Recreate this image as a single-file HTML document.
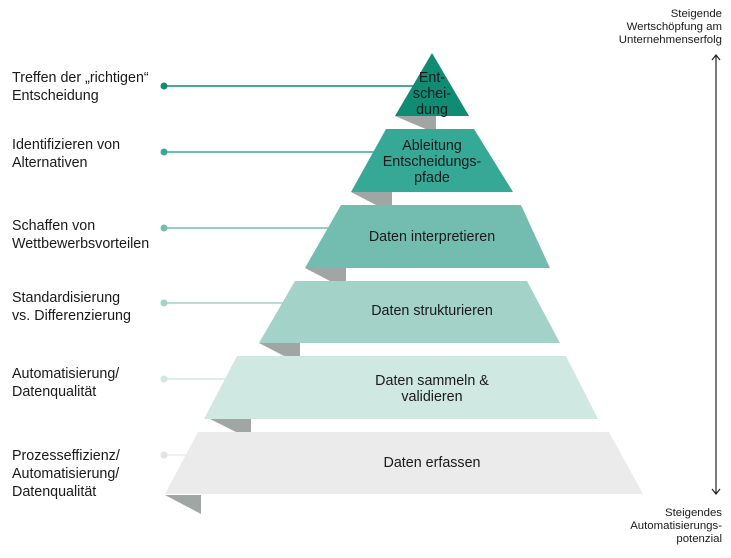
<!DOCTYPE html>
<html><head><meta charset="utf-8"><style>
body{margin:0;background:#fff;}
svg text{font-family:"Liberation Sans",sans-serif;font-size:14.3px;fill:#1a1a1a;}
.s{font-size:11.4px;}
</style></head><body>
<svg width="731" height="553" viewBox="0 0 731 553" xmlns="http://www.w3.org/2000/svg">
<g fill="#a0a6a3">
<polygon points="395,116 436,116 436,130 428,130"/>
<polygon points="351,192 392,192 392,205 376,205"/>
<polygon points="305,268 346,268 346,281 330,281"/>
<polygon points="259,343 300,343 300,356 284,356"/>
<polygon points="210,419 251,419 251,432 236,432"/>
<polygon points="165,495 201,495 201,514"/>
</g>
<g stroke-width="1.5">
<line x1="164" y1="86" x2="415" y2="86" stroke="#0f8c73"/>
<line x1="164" y1="152" x2="380" y2="152" stroke="#36a896"/>
<line x1="164" y1="228" x2="335" y2="228" stroke="#72bdb0"/>
<line x1="164" y1="303" x2="290" y2="303" stroke="#a3d3c8"/>
<line x1="164" y1="379" x2="230" y2="379" stroke="#d0e8e2"/>
<line x1="164" y1="455" x2="190" y2="455" stroke="#ebebeb"/>
</g>
<circle cx="164" cy="86" r="3.5" fill="#0f8c73"/>
<circle cx="164" cy="152" r="3.5" fill="#36a896"/>
<circle cx="164" cy="228" r="3.5" fill="#72bdb0"/>
<circle cx="164" cy="303" r="3.5" fill="#a3d3c8"/>
<circle cx="164" cy="379" r="3.5" fill="#d0e8e2"/>
<circle cx="164" cy="455" r="3.5" fill="#e3e3e3"/>
<polygon points="432,53 395,116 469,116" fill="#0f8c73"/>
<polygon points="386,129 474,129 513,192 351,192" fill="#36a896"/>
<polygon points="341,205 521,205 550,268 305,268" fill="#72bdb0"/>
<polygon points="295,281 527,281 560,343 259,343" fill="#a3d3c8"/>
<polygon points="237,356 566,356 598,419 204,419" fill="#d0e8e2"/>
<polygon points="198,432 609,432 643,494 165,494" fill="#ebebeb"/>
<g text-anchor="middle">
<text x="432" y="82">Ent-</text><text x="432" y="98">schei-</text><text x="432" y="114">dung</text>
<text x="432" y="150">Ableitung</text><text x="432" y="166">Entscheidungs-</text><text x="432" y="182">pfade</text>
<text x="432" y="241">Daten interpretieren</text>
<text x="432" y="315">Daten strukturieren</text>
<text x="432" y="385">Daten sammeln &amp;</text><text x="432" y="401">validieren</text>
<text x="432" y="467">Daten erfassen</text>
</g>
<text x="12" y="82">Treffen der „richtigen“</text><text x="12" y="100">Entscheidung</text>
<text x="12" y="149">Identifizieren von</text><text x="12" y="167">Alternativen</text>
<text x="12" y="230">Schaffen von</text><text x="12" y="248">Wettbewerbsvorteilen</text>
<text x="12" y="302">Standardisierung</text><text x="12" y="320">vs. Differenzierung</text>
<text x="12" y="378">Automatisierung/</text><text x="12" y="396">Datenqualität</text>
<text x="12" y="460">Prozesseffizienz/</text><text x="12" y="478">Automatisierung/</text><text x="12" y="496">Datenqualität</text>
<g text-anchor="end">
<text class="s" x="722" y="17">Steigende</text><text class="s" x="722" y="30">Wertschöpfung am</text><text class="s" x="722" y="43">Unternehmenserfolg</text>
<text class="s" x="722" y="516">Steigendes</text><text class="s" x="722" y="529">Automatisierungs-</text><text class="s" x="722" y="542">potenzial</text>
</g>
<g stroke="#222" stroke-width="1.2" fill="none">
<line x1="716" y1="55" x2="716" y2="494"/>
<polyline points="712,60 716,55 720,60"/>
<polyline points="712,489 716,494 720,489"/>
</g>
</svg>
</body></html>
